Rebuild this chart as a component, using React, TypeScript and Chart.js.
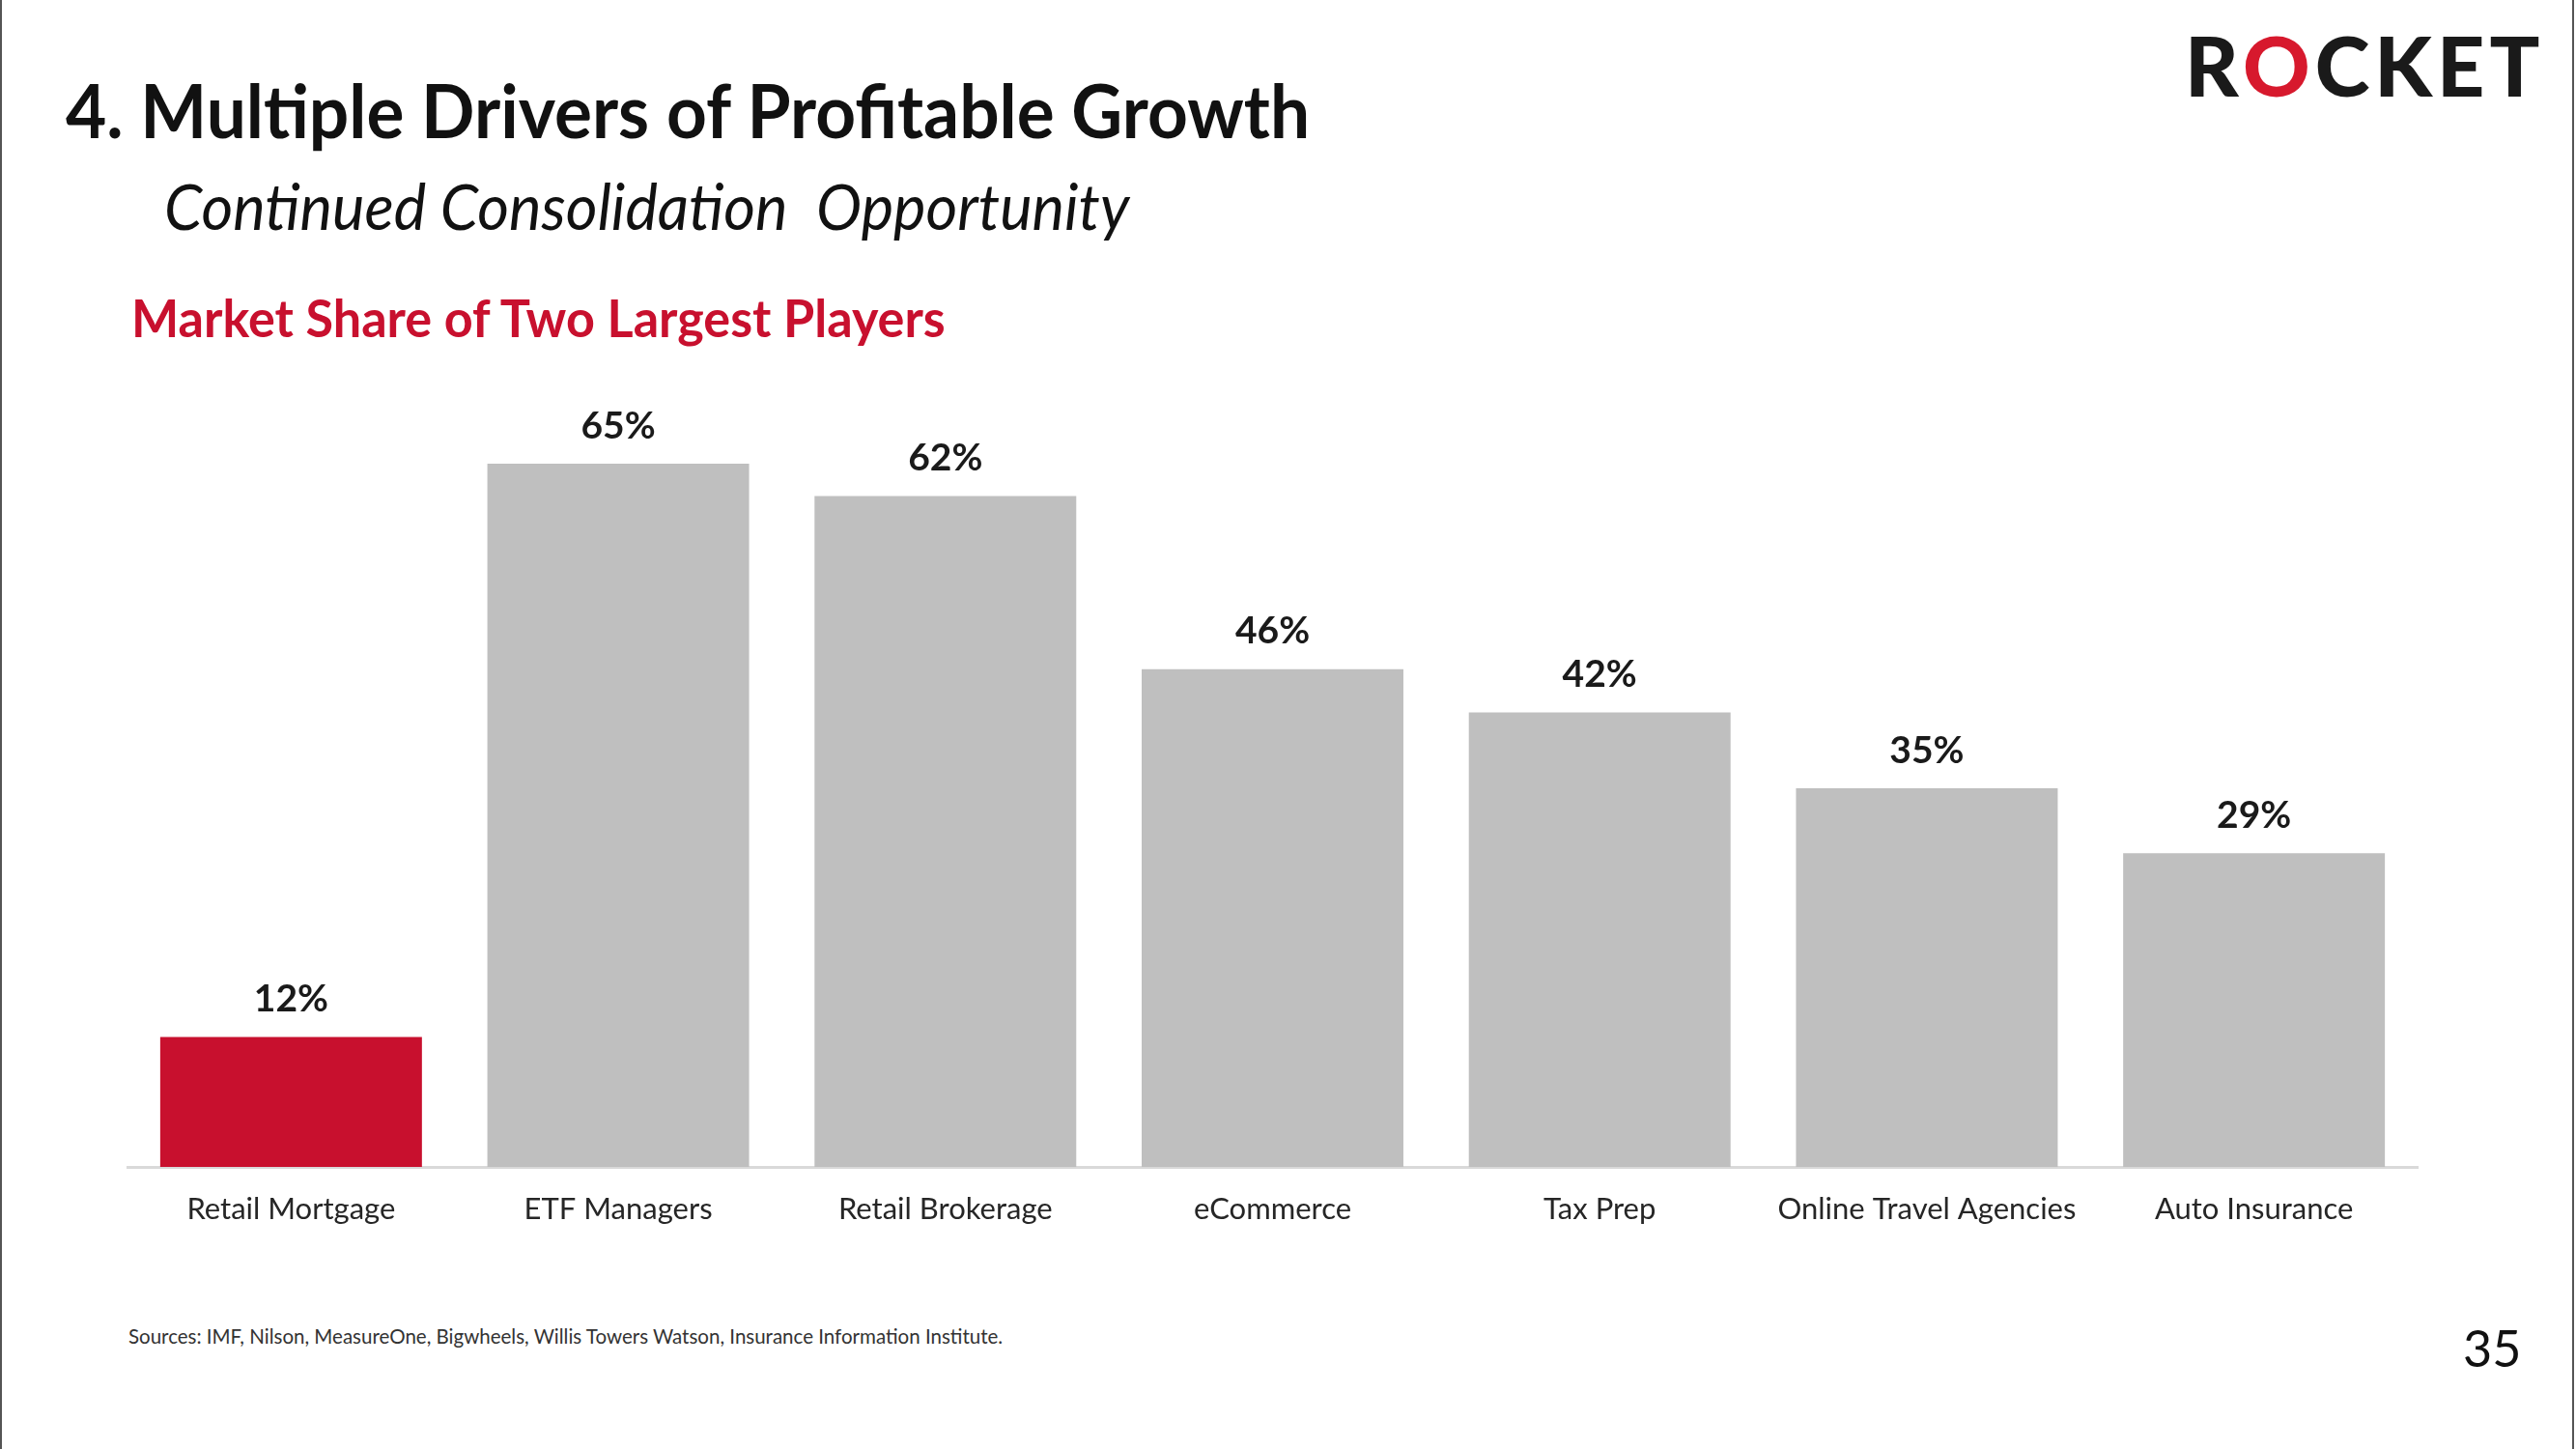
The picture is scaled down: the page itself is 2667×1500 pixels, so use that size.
import React, { useEffect, useRef } from "react";
import { Chart, registerables } from "chart.js";

Chart.register(...registerables);

const categories = [
  "Retail Mortgage",
  "ETF Managers",
  "Retail Brokerage",
  "eCommerce",
  "Tax Prep",
  "Online Travel Agencies",
  "Auto Insurance",
];
const shareValues = [12, 65, 62, 46, 42, 35, 29];
const barColors = ["#C8102E", "#BFBFBF", "#BFBFBF", "#BFBFBF", "#BFBFBF", "#BFBFBF", "#BFBFBF"];
const yMax = 70;

const titleText = "4. Multiple Drivers of Profitable Growth";
const subtitleText = "Continued Consolidation  Opportunity";
const headingText = "Market Share of Two Largest Players";
const sourcesText =
  "Sources: IMF, Nilson, MeasureOne, Bigwheels, Willis Towers Watson, Insurance Information Institute.";
const pageNumber = "35";

const FONT = "Lato, 'Open Sans', sans-serif";

const valueLabelPlugin = {
  id: "valueLabels",
  afterDatasetsDraw(chart: any) {
    const ctx = chart.ctx;
    const meta = chart.getDatasetMeta(0);
    ctx.save();
    ctx.font = "bold 39px Lato";
    ctx.fillStyle = "#1a1a1a";
    ctx.textAlign = "center";
    ctx.textBaseline = "middle";
    meta.data.forEach((bar: any, i: number) => {
      ctx.fillText(`${shareValues[i]}%`, bar.x, bar.y - 39);
    });
    ctx.restore();
  },
};

function BarChart() {
  const ref = useRef<HTMLCanvasElement | null>(null);
  useEffect(() => {
    if (!ref.current) return;
    const chart = new Chart(ref.current, {
      type: "bar",
      data: {
        labels: categories,
        datasets: [
          {
            data: shareValues,
            backgroundColor: barColors,
            borderWidth: 0,
            barPercentage: 0.8,
            categoryPercentage: 1.0,
          },
        ],
      },
      options: {
        animation: false,
        responsive: false,
        devicePixelRatio: 1,
        layout: { padding: { left: 132, right: 164, top: 44, bottom: 0 } },
        plugins: {
          legend: { display: false },
          tooltip: { enabled: false },
          title: { display: false },
        },
        scales: {
          x: {
            grid: { display: false, drawTicks: false },
            border: { display: true, color: "#D9D9D9", width: 3 },
            ticks: {
              color: "#262626",
              font: { family: "Lato", size: 31 },
              padding: 25,
              maxRotation: 0,
              autoSkip: false,
            },
            afterFit: (scale: any) => {
              scale.height = 92;
            },
          },
          y: {
            display: false,
            min: 0,
            max: yMax,
          },
        },
      },
      plugins: [valueLabelPlugin],
    });
    return () => chart.destroy();
  }, []);
  return (
    <canvas
      ref={ref}
      width={2667}
      height={920}
      style={{ position: "absolute", left: 0, top: 380, width: 2667, height: 920 }}
    />
  );
}

const textBase: React.CSSProperties = {
  position: "absolute",
  lineHeight: 1,
  whiteSpace: "pre",
  fontFamily: FONT,
  transformOrigin: "left center",
};

export default function App() {
  return (
    <div
      style={{
        position: "fixed",
        left: 0,
        top: 0,
        width: 2667,
        height: 1500,
        background: "#ffffff",
        overflow: "hidden",
      }}
    >
      <div style={{ position: "absolute", left: 0, top: 0, width: 2, height: 1500, background: "#555" }} />
      <div style={{ position: "absolute", left: 2663, top: 0, width: 2, height: 1500, background: "#555" }} />

      <div
        style={{
          ...textBase,
          left: 68,
          top: 76,
          fontSize: 76,
          fontWeight: 700,
          color: "#111",
          transform: "scaleX(0.96)",
        }}
      >
        {titleText}
      </div>
      <div
        style={{
          ...textBase,
          left: 170,
          top: 180,
          fontSize: 66,
          fontStyle: "italic",
          color: "#111",
          transform: "scaleX(0.957)",
        }}
      >
        {subtitleText}
      </div>
      <div
        style={{
          ...textBase,
          left: 136,
          top: 302,
          fontSize: 54,
          fontWeight: 700,
          color: "#C8102E",
          transform: "scaleX(0.965)",
        }}
      >
        {headingText}
      </div>

      <div
        style={{
          ...textBase,
          left: 2262,
          top: 24,
          fontSize: 86,
          fontWeight: 900,
          color: "#1a1a1a",
          letterSpacing: 5,
        }}
      >
        R<span style={{ color: "#D7192D" }}>O</span>CKET
      </div>

      <BarChart />

      <div style={{ ...textBase, left: 133, top: 1373, fontSize: 20.5, color: "#333" }}>{sourcesText}</div>
      <div style={{ ...textBase, left: 2550, top: 1369, fontSize: 52, color: "#111" }}>{pageNumber}</div>
    </div>
  );
}
